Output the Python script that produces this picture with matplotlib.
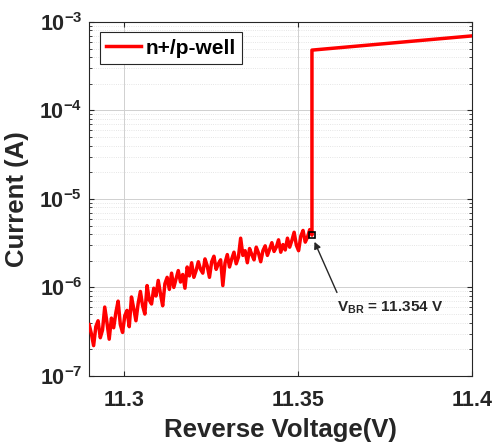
import numpy as np
import matplotlib
matplotlib.use('Agg')
import matplotlib.pyplot as plt
from matplotlib.ticker import FixedLocator, FuncFormatter, LogLocator, NullFormatter

plt.rcParams['font.family'] = ['Liberation Sans', 'DejaVu Sans']
plt.rcParams['font.weight'] = 'bold'
plt.rcParams['mathtext.fontset'] = 'custom'
plt.rcParams['mathtext.rm'] = 'Liberation Sans:bold'
plt.rcParams['mathtext.bf'] = 'Liberation Sans:bold'
plt.rcParams['mathtext.it'] = 'Liberation Sans:bold'
plt.rcParams['mathtext.default'] = 'bf'

# voltage sweep before breakdown (V): start, step, count
v_start = 11.290
v_step = 0.00064
n_pts = 101

pre_current_uA = [
    0.38, 0.30, 0.22, 0.36, 0.42, 0.27, 0.33, 0.60, 0.40, 0.26,
    0.45, 0.35, 0.52, 0.70, 0.38, 0.31, 0.48, 0.55, 0.36, 0.78,
    0.58, 0.42, 0.66, 0.90, 0.62, 0.50, 1.05, 0.72, 0.65, 0.98,
    0.80, 1.20, 0.85, 0.62, 1.10, 1.30, 0.95, 1.45, 1.00, 1.25,
    1.55, 1.15, 1.40, 0.98, 1.70, 1.35, 1.90, 1.30, 1.55, 1.95,
    1.60, 1.45, 2.10, 1.75, 1.30, 1.95, 2.25, 1.60, 1.85, 2.05,
    1.05, 1.90, 2.35, 1.70, 2.10, 2.50, 1.85, 2.20, 3.60, 2.30,
    2.60, 1.90, 2.75, 2.35, 2.05, 2.85, 2.45, 1.95, 2.60, 2.95,
    2.30, 2.70, 3.20, 2.55, 2.85, 3.45, 2.50, 3.05, 2.65, 3.60,
    2.85, 3.40, 4.20, 3.00, 2.60, 3.80, 4.40, 3.25, 3.70, 4.50,
    3.90,
]

# after breakdown
post_voltage = [11.354, 11.4]
post_current = [4.8e-4, 6.95e-4]

v_br = 11.354
i_br = 3.9e-6

x_ticks = [11.3, 11.35, 11.4]
x_tick_labels = ['11.3', '11.35', '11.4']

pre_voltage = v_start + v_step * np.arange(n_pts)
pre_current = np.array(pre_current_uA) * 1e-6
voltage = np.concatenate([pre_voltage, post_voltage])
current = np.concatenate([pre_current, post_current])

fig = plt.figure(figsize=(4.98, 4.47), dpi=100)
ax = fig.add_axes([0.179, 0.159, 0.769, 0.792])

ax.semilogy(voltage, current, color='#ff0000', lw=2.5, label='n+/p-well', zorder=3)
ax.plot([v_br], [i_br], marker='s', ms=5, mfc='none', mec='black', mew=1.2, zorder=4)

ax.set_xlim(11.29, 11.4)
ax.set_ylim(1e-7, 1e-3)
ax.xaxis.set_major_locator(FixedLocator(x_ticks))
ax.set_xticklabels(x_tick_labels)
ax.yaxis.set_major_locator(LogLocator(base=10, numticks=10))
ax.yaxis.set_minor_locator(LogLocator(base=10, subs=np.arange(2, 10), numticks=10))
ax.yaxis.set_minor_formatter(NullFormatter())
ax.yaxis.set_major_formatter(FuncFormatter(lambda v, p: r'$10^{%d}$' % int(round(np.log10(v)))))

ax.grid(True, which='major', color='#d0d0d0', lw=0.7)
ax.grid(True, which='minor', axis='y', color='#dddddd', lw=0.6, ls=':')
ax.set_axisbelow(True)
ax.tick_params(which='both', direction='in', top=True, right=True, colors='#262626',
               labelsize=15.5, labelcolor='#262626')
ax.tick_params(axis='x', pad=10)
ax.tick_params(axis='y', pad=5)
for s in ax.spines.values():
    s.set_color('#262626')
    s.set_linewidth(0.8)

ax.set_xlabel('Reverse Voltage(V)', fontsize=18.5, fontweight='bold', color='#262626', labelpad=5)
ax.set_ylabel('Current (A)', fontsize=18.5, fontweight='bold', color='#262626', labelpad=7)

leg = ax.legend(loc='upper left', handlelength=1.7, handletextpad=0.2, borderpad=0.3,
                borderaxespad=0.5, fancybox=False, framealpha=1, edgecolor='#262626',
                prop={'weight': 'bold', 'size': 15})
leg.get_frame().set_linewidth(0.8)

ax.annotate('', xy=(v_br + 0.0004, 3.5e-6), xytext=(11.3615, 8.2e-7),
            arrowprops=dict(arrowstyle='-|>', color='#262626', lw=1.0, mutation_scale=10))
ax.text(11.3612, 5.9e-7, r'V$_{BR}$ = 11.354 V', fontsize=11, fontweight='bold',
        color='#262626', ha='left', va='center')

fig.savefig('out.png', dpi=100)
